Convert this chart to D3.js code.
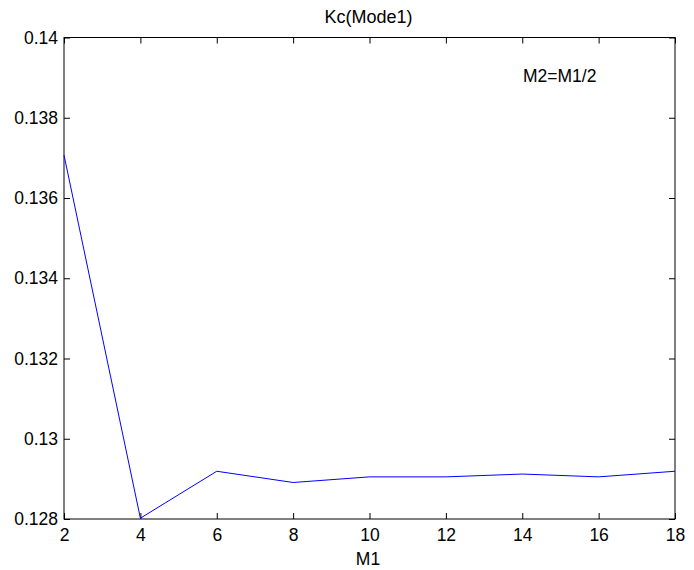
<!DOCTYPE html>
<html>
<head>
<meta charset="utf-8">
<script src="https://cdn.jsdelivr.net/npm/d3@7"></script>
<style>
  body { margin: 0; background: #fff; }
  text { font-family: "Liberation Sans", Arial, sans-serif; fill: #000; }
</style>
</head>
<body>
<div id="chart"></div>
<script>
// data
const m1 = [2, 4, 6, 8, 10, 12, 14, 16, 18];
const kc = [0.13707, 0.12802, 0.12919, 0.12891, 0.12905, 0.12905, 0.12912, 0.12905, 0.12919];
const xTicks = [2, 4, 6, 8, 10, 12, 14, 16, 18];
const yTicks = [0.128, 0.13, 0.132, 0.134, 0.136, 0.138, 0.14];
const yTickLabels = ['0.128', '0.13', '0.132', '0.134', '0.136', '0.138', '0.14'];

const width = 694;
const height = 570;
const margin = {top: 37.5, right: 19, bottom: 51, left: 64};
const innerW = width - margin.left - margin.right;
const innerH = height - margin.top - margin.bottom;
const fontSize = '17.5px';

const svg = d3.select('#chart')
    .append('svg')
    .attr('width', width)
    .attr('height', height);

const g = svg.append('g')
    .attr('transform', 'translate(' + margin.left + ',' + margin.top + ')');

const x = d3.scaleLinear().domain([2, 18]).range([0, innerW]);
const y = d3.scaleLinear().domain([0.128, 0.14]).range([innerH, 0]);

const tickLen = 6;

// bottom axis
const xAxis = d3.axisBottom(x)
    .tickValues(xTicks)
    .tickSize(-tickLen)
    .tickPadding(10)
    .tickFormat(d3.format('d'));
g.append('g')
    .attr('transform', 'translate(0,' + innerH + ')')
    .call(xAxis)
    .call(sel => sel.select('.domain').remove())
    .selectAll('text')
    .style('font-size', fontSize);

// top ticks
g.append('g')
    .call(d3.axisTop(x).tickValues(xTicks).tickSize(-tickLen).tickFormat(''))
    .call(sel => sel.select('.domain').remove());

// left axis
const yAxis = d3.axisLeft(y)
    .tickValues(yTicks)
    .tickSize(-tickLen)
    .tickPadding(6)
    .tickFormat((d, i) => yTickLabels[i]);
g.append('g')
    .call(yAxis)
    .call(sel => sel.select('.domain').remove())
    .selectAll('text')
    .style('font-size', fontSize);

// right ticks
g.append('g')
    .attr('transform', 'translate(' + innerW + ',0)')
    .call(d3.axisRight(y).tickValues(yTicks).tickSize(-tickLen).tickFormat(''))
    .call(sel => sel.select('.domain').remove());

g.selectAll('.tick line').attr('stroke', '#000');
g.selectAll('.tick text').attr('fill', '#000');

// box
g.append('rect')
    .attr('x', 0)
    .attr('y', 0)
    .attr('width', innerW)
    .attr('height', innerH)
    .attr('fill', 'none')
    .attr('stroke', '#000')
    .attr('stroke-width', 1);

// series
const line = d3.line()
    .x((d, i) => x(m1[i]))
    .y(d => y(d));

g.append('path')
    .datum(kc)
    .attr('d', line)
    .attr('fill', 'none')
    .attr('stroke', '#0000ff')
    .attr('stroke-width', 1);

// labels
svg.append('text')
    .attr('x', margin.left + innerW / 2 - 1)
    .attr('y', 23)
    .attr('text-anchor', 'middle')
    .style('font-size', '18px')
    .text('Kc(Mode1)');

svg.append('text')
    .attr('x', 368)
    .attr('y', 565)
    .attr('text-anchor', 'middle')
    .style('font-size', fontSize)
    .text('M1');

svg.append('text')
    .attr('x', 523)
    .attr('y', 82)
    .style('font-size', fontSize)
    .text('M2=M1/2');
</script>
</body>
</html>
